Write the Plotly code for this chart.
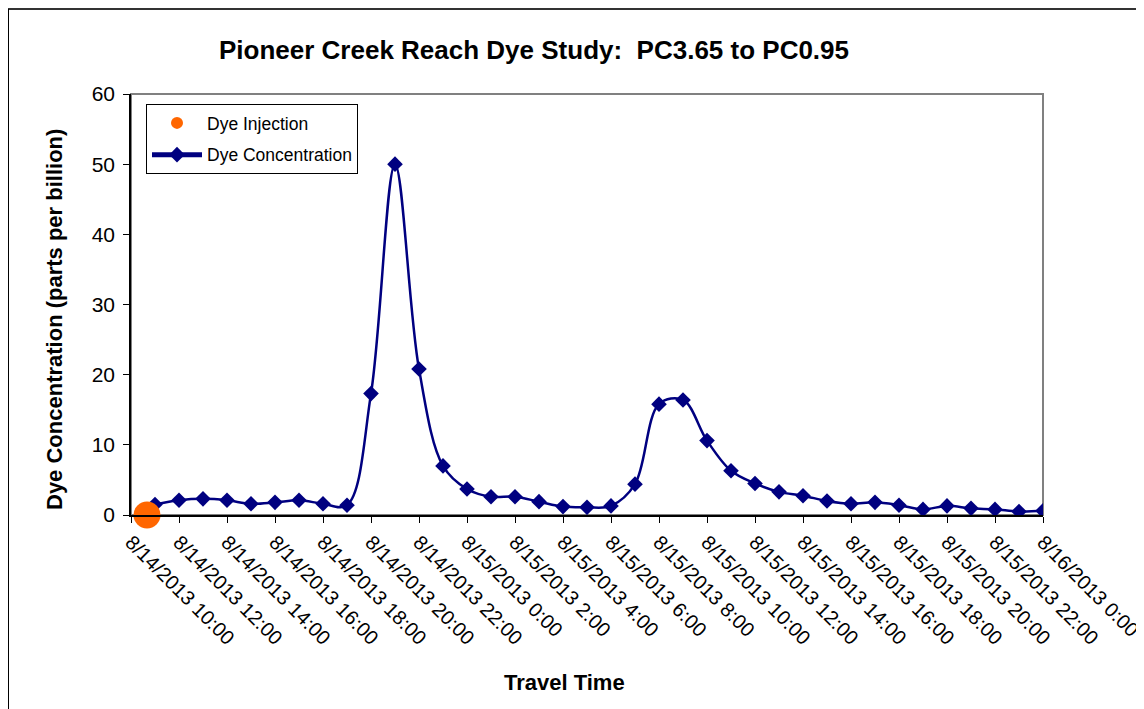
import plotly.graph_objects as go

# hourly sample times and measured dye concentration (ppb)
times = [
    "2013-08-14 11:00", "2013-08-14 12:00", "2013-08-14 13:00", "2013-08-14 14:00",
    "2013-08-14 15:00", "2013-08-14 16:00", "2013-08-14 17:00", "2013-08-14 18:00",
    "2013-08-14 19:00", "2013-08-14 20:00", "2013-08-14 21:00", "2013-08-14 22:00",
    "2013-08-14 23:00", "2013-08-15 00:00", "2013-08-15 01:00", "2013-08-15 02:00",
    "2013-08-15 03:00", "2013-08-15 04:00", "2013-08-15 05:00", "2013-08-15 06:00",
    "2013-08-15 07:00", "2013-08-15 08:00", "2013-08-15 09:00", "2013-08-15 10:00",
    "2013-08-15 11:00", "2013-08-15 12:00", "2013-08-15 13:00", "2013-08-15 14:00",
    "2013-08-15 15:00", "2013-08-15 16:00", "2013-08-15 17:00", "2013-08-15 18:00",
    "2013-08-15 19:00", "2013-08-15 20:00", "2013-08-15 21:00", "2013-08-15 22:00",
    "2013-08-15 23:00", "2013-08-16 00:00",
]
concentration = [
    1.5, 2.1, 2.3, 2.1, 1.6, 1.8, 2.1, 1.6,
    1.4, 17.3, 50.0, 20.8, 7.0, 3.7, 2.6, 2.6,
    1.9, 1.2, 1.1, 1.3, 4.4, 15.8, 16.4, 10.6,
    6.3, 4.5, 3.3, 2.75, 2.0, 1.6, 1.8, 1.4,
    0.8, 1.3, 0.95, 0.8, 0.5, 0.6,
]

injection_time = ["2013-08-14 10:40"]
injection_value = [0]

tick_times = [
    "2013-08-14 10:00", "2013-08-14 12:00", "2013-08-14 14:00", "2013-08-14 16:00",
    "2013-08-14 18:00", "2013-08-14 20:00", "2013-08-14 22:00", "2013-08-15 00:00",
    "2013-08-15 02:00", "2013-08-15 04:00", "2013-08-15 06:00", "2013-08-15 08:00",
    "2013-08-15 10:00", "2013-08-15 12:00", "2013-08-15 14:00", "2013-08-15 16:00",
    "2013-08-15 18:00", "2013-08-15 20:00", "2013-08-15 22:00", "2013-08-16 00:00",
]
tick_labels = [
    "8/14/2013 10:00", "8/14/2013 12:00", "8/14/2013 14:00", "8/14/2013 16:00",
    "8/14/2013 18:00", "8/14/2013 20:00", "8/14/2013 22:00", "8/15/2013 0:00",
    "8/15/2013 2:00", "8/15/2013 4:00", "8/15/2013 6:00", "8/15/2013 8:00",
    "8/15/2013 10:00", "8/15/2013 12:00", "8/15/2013 14:00", "8/15/2013 16:00",
    "8/15/2013 18:00", "8/15/2013 20:00", "8/15/2013 22:00", "8/16/2013 0:00",
]
y_ticks = [0, 10, 20, 30, 40, 50, 60]

FONT = "Liberation Sans, Arial, sans-serif"

fig = go.Figure()

fig.add_trace(go.Scatter(
    x=times, y=concentration,
    mode="lines+markers",
    name="Dye Concentration",
    legendgroup="conc", legendrank=2,
    line=dict(color="#000080", width=2.5, shape="spline", smoothing=1.0),
    marker=dict(symbol="diamond", size=12, color="#000080"),
))

fig.add_trace(go.Scatter(
    x=injection_time, y=injection_value,
    mode="markers",
    name="Dye Injection",
    legendgroup="inj", legendrank=1,
    marker=dict(size=27, color="#FF6600"),
    cliponaxis=False,
))

# page has an 8px body margin, so figure coords = page coords - 8
W, H = 1136, 701
L, R, T, B = 123, 1035, 86, 507
pw, ph = R - L, B - T


def px(x):
    return (x - L) / pw


def py(y):
    return (B - y) / ph


fig.update_layout(
    width=W, height=H,
    margin=dict(l=L, r=W - R, t=T, b=H - B, pad=0),
    paper_bgcolor="white", plot_bgcolor="white",
    font=dict(family=FONT, color="black", size=18),
    title=dict(
        text="<b>Pioneer Creek Reach Dye Study:  PC3.65 to PC0.95</b>",
        x=px(526), xref="paper", xanchor="center",
        y=1 - 42 / H, yanchor="middle",
        font=dict(size=26, family=FONT),
    ),
    showlegend=True,
    legend=dict(
        x=px(138), y=py(96), xanchor="left", yanchor="top",
        bgcolor="white", bordercolor="black", borderwidth=1,
        font=dict(size=17.5, family=FONT),
        traceorder="grouped", itemsizing="constant",
        itemwidth=50, tracegroupgap=6,
    ),
    shapes=[
        dict(type="rect", xref="paper", yref="paper", x0=0, x1=1, y0=0, y1=1,
             line=dict(color="#808080", width=2), layer="below"),
        dict(type="line", xref="paper", yref="paper", x0=px(0), x1=px(W + 10),
             y0=py(1), y1=py(1), line=dict(color="#333333", width=2)),
        dict(type="line", xref="paper", yref="paper", x0=px(0), x1=px(0),
             y0=py(1), y1=py(H + 10), line=dict(color="black", width=2)),
    ],
    annotations=[
        dict(text="<b>Travel Time</b>", xref="paper", yref="paper",
             x=px(556), y=py(674), xanchor="center", yanchor="middle",
             showarrow=False, font=dict(size=22, family=FONT)),
        dict(text="<b>Dye Concentration (parts per billion)</b>", xref="paper", yref="paper",
             x=px(46), y=py(312), xanchor="center", yanchor="middle", textangle=-90,
             showarrow=False, font=dict(size=22, family=FONT)),
    ],
)

fig.update_xaxes(
    type="date",
    range=[tick_times[0], tick_times[-1]],
    tickvals=tick_times, ticktext=tick_labels,
    tickangle=45, ticklabeloverflow="allow",
    ticks="outside", ticklen=6, tickcolor="black", tickwidth=1,
    showline=True, linecolor="black", linewidth=1.5,
    showgrid=False, zeroline=False,
    tickfont=dict(size=20, family=FONT),
    automargin=False,
)

fig.update_yaxes(
    range=[0, 60], tickvals=y_ticks,
    ticks="outside", ticklen=6, tickcolor="black", tickwidth=1,
    ticklabelstandoff=4,
    showline=True, linecolor="black", linewidth=1.5,
    showgrid=False, zeroline=False,
    tickfont=dict(size=21, family=FONT),
    automargin=False,
)

fig.write_html("out.html")
